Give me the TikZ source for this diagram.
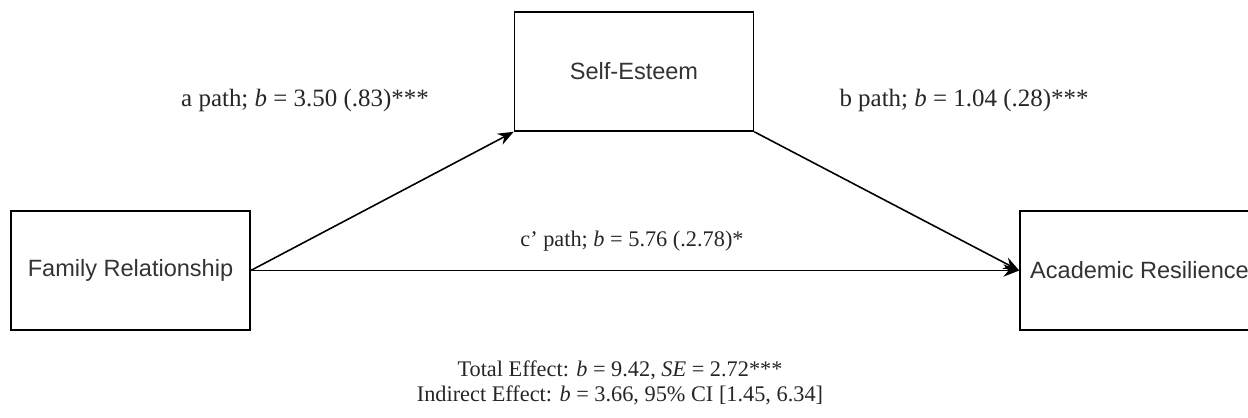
\documentclass[tikz,border=0pt]{standalone}
\usepackage{fontspec}
\setmainfont{Liberation Serif}
\setsansfont{Liberation Sans}
\usetikzlibrary{arrows.meta}

\begin{document}
\begin{tikzpicture}[>={Stealth[length=9pt,width=7pt]}, x=0.02cm, y=-0.02cm]
\tikzset{
  var/.style={draw, line width=0.9pt, minimum width=4.78cm, minimum height=2.38cm,
    font=\sffamily\fontsize{13.4}{15}\selectfont, text=black!80},
  lbl/.style={font=\fontsize{12.7}{14.5}\selectfont, text=black!85},
  coef/.style={lbl, font=\fontsize{14.2}{16}\selectfont}
}
% Canvas (pixel units, y downwards)
\useasboundingbox (0,0) rectangle (1248,417);
% Variables
\node[var] (fam) at (130.5,270.5) {Family Relationship};
\node[var] (self) at (634,71.5) {Self-Esteem};
\node[var] (acad) at (1139.5,270.5) {Academic Resilience};
% Paths
\draw[->, line width=0.9pt] (fam.east) -- (self.south west);
\draw[->, line width=0.9pt] (self.south east) -- (acad.west);
\draw[->, line width=0.9pt] (fam.east) -- (acad.west);
% Coefficients
\node[coef] (apath) at (305,100) {a path; \textit{b} = 3.50 (.83)***};
\node[coef] (bpath) at (964,100) {b path; \textit{b} = 1.04 (.28)***};
\node[lbl] (cpath) at (632,241) {c' path; \textit{b} = 5.76 (.2.78)*};
% Effects
\node[lbl, align=center] (effects) at (620,383)
  {Total Effect: \textit{b} = 9.42, \textit{SE} = 2.72***\\
   Indirect Effect: \textit{b} = 3.66, 95\% CI [1.45, 6.34]};
\end{tikzpicture}
\end{document}
